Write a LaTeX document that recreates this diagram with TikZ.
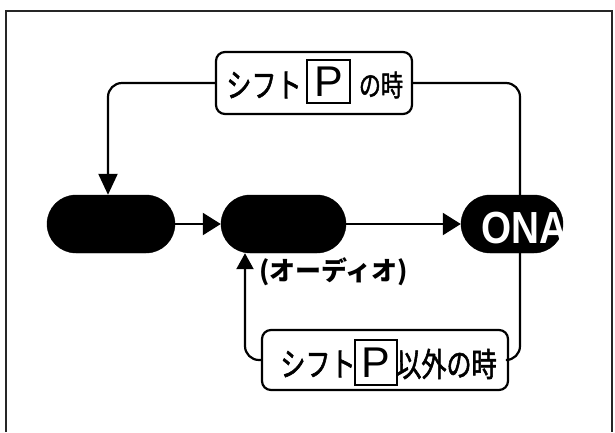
\documentclass[tikz,border=0pt]{standalone}
\usepackage{fontspec}
\usetikzlibrary{shapes.misc,arrows.meta}
\newfontfamily\jpfont[FakeStretch=0.76,FakeBold=1.6]{Noto Sans CJK JP}
\newfontfamily\jplabel{Noto Sans CJK JP}
\newfontfamily\onafont[FakeStretch=0.86]{Liberation Sans}
\newfontfamily\pfont{Liberation Sans}
\begin{document}
\begin{tikzpicture}[x=1pt,y=1pt]
\tikzset{
  pill/.style={rounded rectangle, fill=black, draw=black, inner sep=0pt, minimum height=58pt},
  labelbox/.style={draw=black, line width=2.2pt, rounded corners=9pt, fill=white, inner sep=0pt},
  pbox/.style={draw=black, line width=2pt, inner sep=0pt, minimum width=43pt, minimum height=43pt, font=\pfont\fontsize{43}{43}\selectfont},
  jptext/.style={inner sep=0pt, font=\jpfont\fontsize{33}{38}\selectfont},
  conn/.style={line width=2.2pt, draw=black},
  htri/.style={-{Triangle[length=18pt,width=22pt]}},
  vtri/.style={-{Triangle[length=21pt,width=19pt]}},
  utri/.style={-{Triangle[length=16pt,width=17pt]}},
}
\useasboundingbox (0,0) rectangle (615,-432);
% frame
\draw[line width=2pt, black!85] (6,-432) -- (6,-11) -- (612,-11) -- (612,-432);

% pills
\node[pill, minimum width=128pt] (pill1) at (111,-224) {};
\node[pill, minimum width=125pt] (pill2) at (283.5,-224) {};
\node[pill, minimum width=102pt] (pill3) at (512,-224) {};

% label boxes
\node[labelbox, minimum width=196pt, minimum height=62pt] (topbox) at (314,-83) {};
\node[labelbox, minimum width=246pt, minimum height=60pt] (botbox) at (385,-360) {};

% corner coordinates
\coordinate (tl) at (108,-83);
\coordinate (tr) at (520,-83);
\coordinate (br) at (520,-360);
\coordinate (bl) at (245,-360);

% connectors
\draw[conn, rounded corners=14pt, vtri] (topbox.west) -- (tl) -- (tl |- pill1.north);
\draw[conn, rounded corners=14pt] (topbox.east) -- (tr) -- (br) -- (botbox.east);
\draw[conn, rounded corners=14pt, utri] (botbox.west) -- (bl) -- (bl |- pill2.south);
\draw[conn, htri] (pill1.east) -- (pill2.west);
\draw[conn, htri] (pill2.east) -- (pill3.west);

% ONA text
\node[anchor=base west, inner sep=0pt, text=white, font=\onafont\bfseries\fontsize{45}{45}\selectfont] (ona) at (481,-243) {ONA};

% top box contents
\node[jptext] (t1) at (264,-85) {シフト};
\node[pbox] (tp) at (328.5,-81.5) {P};
\node[jptext, font=\jpfont\fontsize{29}{34}\selectfont] (t2) at (381,-85) {の時};

% bottom box contents
\node[jptext] (b1) at (318,-364) {シフト};
\node[pbox, minimum width=42pt, minimum height=45pt] (bp) at (376,-362.5) {P};
\node[jptext] (b2) at (446.5,-364) {以外の時};

% audio label
\node[anchor=west, inner sep=0pt, font=\jplabel\bfseries\fontsize{26}{30}\selectfont] (audio) at (259,-272) {(オーディオ)};
\end{tikzpicture}
\end{document}
